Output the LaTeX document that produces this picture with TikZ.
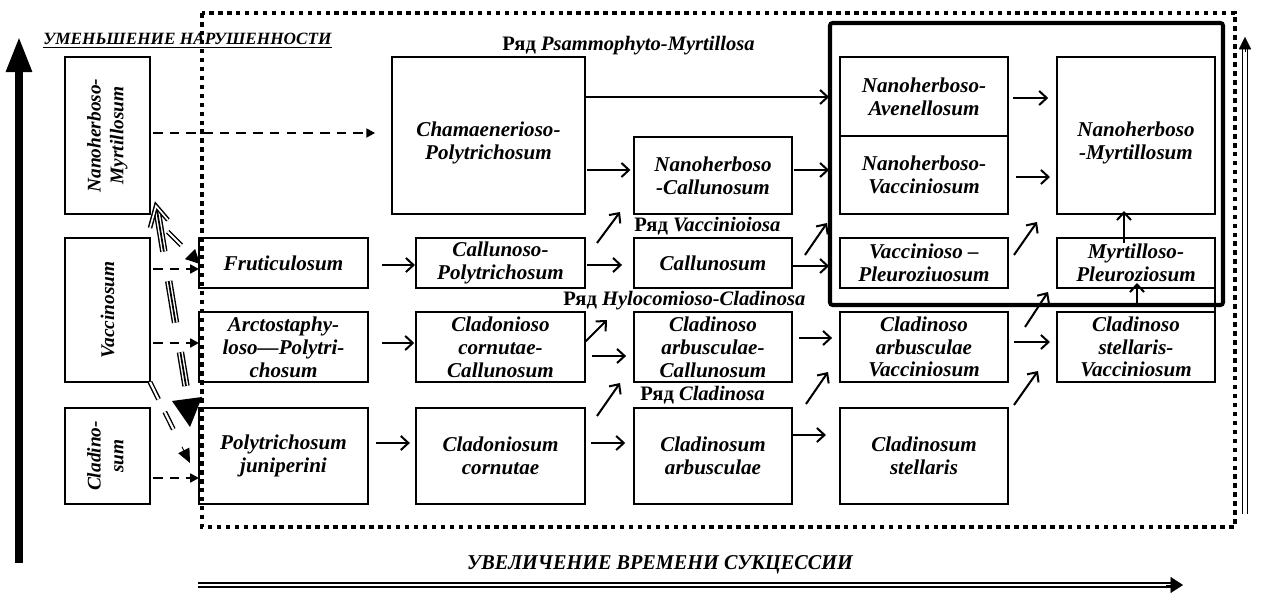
\documentclass[tikz,border=0pt]{standalone}
\usepackage{fontspec}
\usepackage{graphicx}
\setmainfont{Liberation Serif}
\newfontfamily\narrowfont[FakeStretch=0.96]{Liberation Serif}
\usetikzlibrary{arrows.meta,calc}
\newcommand{\mybox}[6]{\node[box, minimum width={(#4-#2)*0.02cm}, minimum height={(#5-#3)*0.02cm}] (#1) at ({(#2+#4)/2},{(#3+#5)/2}) {#6};}
\newcommand{\rotsize}{\fontsize{11}{13}\selectfont}
\newcommand{\lowtwo}[2]{\raisebox{-7.5pt}[0pt][0pt]{\begin{tabular}{@{}c@{}}#1\\#2\end{tabular}}}
\tikzset{
  box/.style={draw, line width=0.6pt, inner sep=0pt, outer sep=0pt, align=center,
    font=\bfseries\itshape\fontsize{12}{13}\selectfont},
  arr/.style={line width=1.15pt, -{Straight Barb[length=4.3pt,width=8pt,line width=1.15pt]}},
  darr/.style={line width=1.3pt, dash pattern=on 5.5pt off 4pt, -{Triangle[length=5pt,width=5pt]}},
  dotframe/.style={line width=2.4pt, dash pattern=on 2.6pt off 2.5pt},
  lbl/.style={font=\bfseries\fontsize{11.7}{13}\selectfont, inner sep=0pt, anchor=base west},
  dblline/.style={double, line width=0.8pt, double distance=1.2pt, dash pattern=on 11pt off 8pt},
  trip/.style={double, line width=0.8pt, double distance=2.6pt, dash pattern=on 24pt off 17pt},
  tripin/.style={line width=1pt, dash pattern=on 24pt off 17pt},
}
\begin{document}
\begin{tikzpicture}[x=0.02cm,y=-0.02cm]
\useasboundingbox (0,0) rectangle (1262,594);

% left column
\mybox{nm}{65}{57}{150}{214}{\rotsize\rotatebox{90}{\begin{tabular}{@{}c@{}}Nanoherboso-\\Myrtillosum\end{tabular}}}
\mybox{vac}{65}{238}{150}{382}{\rotsize\rotatebox{90}{Vaccinosum}}
\mybox{cld}{65}{408}{150}{504}{\rotsize\rotatebox{90}{\begin{tabular}{@{}c@{}}Cladino-\\sum\end{tabular}}}

% column 2
\mybox{cham}{392}{57}{585}{214}{\lowtwo{Chamaenerioso-}{Polytrichosum}}
\mybox{frut}{199}{238}{368}{288}{Fruticulosum}
\mybox{arct}{199}{312}{368}{382}{Arctostaphy-\\loso---Polytri-\\chosum}
\mybox{polj}{199}{408}{368}{504}{Polytrichosum\\juniperini}

% column 3
\mybox{calp}{416}{238}{585}{288}{Callunoso-\\Polytrichosum}
\mybox{clcc}{416}{312}{585}{382}{Cladonioso\\cornutae-\\Callunosum}
\mybox{clco}{416}{408}{585}{504}{Cladoniosum\\cornutae}

% column 4
\mybox{nhc}{634}{137}{792}{214}{Nanoherboso\\-Callunosum}
\mybox{cal}{634}{238}{792}{288}{Callunosum}
\mybox{clac}{634}{312}{792}{382}{Cladinoso\\arbusculae-\\Callunosum}
\mybox{clar}{634}{408}{792}{504}{Cladinosum\\arbusculae}

% column 5
\mybox{nha}{840}{57}{1008}{136}{Nanoherboso-\\Avenellosum}
\mybox{nhv}{840}{136}{1008}{214}{Nanoherboso-\\Vacciniosum}
\mybox{vpl}{840}{238}{1008}{288}{Vaccinioso --\\Pleuroziuosum}
\mybox{clav}{840}{312}{1008}{382}{Cladinoso\\arbusculae\\Vacciniosum}
\mybox{clst}{840}{408}{1008}{504}{Cladinosum\\stellaris}

% column 6
\mybox{nhm}{1057}{57}{1215}{214}{\lowtwo{Nanoherboso}{-Myrtillosum}}
\mybox{mpl}{1057}{238}{1215}{288}{Myrtilloso-\\Pleuroziosum}
\mybox{clsv}{1057}{312}{1215}{382}{Cladinoso\\stellaris-\\Vacciniosum}
\draw[line width=0.6pt] (mpl.south east) -- (clsv.north east);

% frames
\draw[dotframe] (202,13) rectangle (1235,527);
\draw[line width=2.3pt, rounded corners=1.5pt] (830,23) rectangle (1223,305);

% row labels
\node[lbl] (r1) at (502,51) {Ряд \textit{Psammophyto-Myrtillosa}};
\node[lbl] (r2) at (634,232) {Ряд \textit{Vaccinioiosa}};
\node[lbl] (r3) at (563,306) {Ряд \textit{Hylocomioso-Cladinosa}};
\node[lbl] (r4) at (640,401) {Ряд \textit{Cladinosa}};

% titles
\node[inner sep=0pt, anchor=base west, font=\bfseries\itshape\fontsize{9.8}{12}\selectfont] (t1) at (43,45) {\underline{УМЕНЬШЕНИЕ НАРУШЕННОСТИ}};
\node[inner sep=0pt, anchor=base, font=\narrowfont\bfseries\itshape\fontsize{12}{14}\selectfont] (t2) at (660,570) {УВЕЛИЧЕНИЕ ВРЕМЕНИ СУКЦЕССИИ};

% big axis arrows
\draw[line width=4.2pt, -{Triangle[length=20pt,width=14pt]}] (19,563) -- (19,37);
\draw[double, line width=1.1pt, double distance=1.3pt] (198,585) -- (1172,585);
\draw[line width=0.2pt, -{Triangle[length=7pt,width=9pt]}] (1166,585) -- (1183,585);
\draw[double, line width=0.7pt, double distance=1.8pt] (1245,514) -- (1245,48);
\draw[line width=0.2pt, -{Triangle[length=7pt,width=7pt]}] (1245,52) -- (1245,37);

% solid arrows
\draw[arr, shorten >=6.2pt] (cham.east |- 0,97) -- (nha.west |- 0,97);
\draw[arr, shorten <=1pt, shorten >=2pt] (cham.east |- 0,170) -- (nhc.west |- 0,170);
\draw[arr, shorten <=1pt, shorten >=6.2pt] (nhc.east |- 0,170) -- (nhv.west |- 0,170);
\draw[arr, shorten <=8pt, shorten >=0.6pt] (frut.east |- 0,265) -- (calp.west |- 0,265);
\draw[arr, shorten <=1pt, shorten >=6.8pt] (calp.east |- 0,265) -- (cal.west |- 0,265);
\draw[arr] ([shift={(12,5)}]calp.north east) -- ([shift={(-14,-2)}]nhc.south west);
\draw[arr, shorten >=6.2pt] (cal.east |- 0,266) -- (vpl.west |- 0,266);
\draw[arr] ([shift={(13,-8)}]cal.east) -- ([shift={(-13,9)}]nhv.south west);
\draw[arr, shorten <=8pt, shorten >=1pt] (arct.east |- 0,343) -- (clcc.west |- 0,343);
\draw[arr, shorten <=4pt, shorten >=4.5pt] (clcc.east |- 0,356) -- (clac.west |- 0,356);
\draw[arr] ([shift={(0,30)}]clcc.north east) -- ([shift={(-27,32)}]cal.south west);
\draw[arr, shorten <=4.5pt, shorten >=3.5pt] (polj.east |- 0,443) -- (clco.west |- 0,443);
\draw[arr, shorten <=3.5pt, shorten >=5pt] (clco.east |- 0,443) -- (clar.west |- 0,443);
\draw[arr] ([shift={(12,8)}]clco.north east) -- ([shift={(-14,1)}]clac.south west);
\draw[arr, shorten <=4pt, shorten >=4.5pt] (clac.east |- 0,338) -- (clav.west |- 0,338);
\draw[arr, shorten >=8pt] (clar.east |- 0,435) -- (clst.west |- 0,435);
\draw[arr] ([shift={(14,-4)}]clar.north east) -- ([shift={(-12,-10)}]clav.south west);
\draw[arr, shorten <=3pt, shorten >=5pt] (nha.east |- 0,98) -- (nhm.west |- 0,98);
\draw[arr, shorten <=4.5pt, shorten >=4pt] (nhv.east |- 0,177) -- (nhm.west |- 0,177);
\draw[arr] ([shift={(6,17)}]vpl.north east) -- ([shift={(-20,8)}]nhm.south west);
\draw[arr] ([shift={(-12,5)}]mpl.north) -- ([shift={(-12,-3)}]nhm.south);
\draw[arr] ([shift={(17,15)}]clav.north east) -- ([shift={(-9,4)}]mpl.south west);
\draw[arr, shorten <=3.5pt, shorten >=4pt] (clav.east |- 0,342) -- (clsv.west |- 0,342);
\draw[arr] ([shift={(6,-3)}]clst.north east) -- ([shift={(-19,-11)}]clsv.south west);
\draw[arr] ([shift={(1,-7)}]clsv.north) -- ([shift={(1,-5)}]mpl.south);

% dashed arrows
\draw[darr, shorten <=1.7pt, shorten >=9.6pt] (nm.east |- 0,133) -- (cham.west |- 0,133);
\draw[darr, shorten <=1.7pt] (vac.east |- 0,269) -- (frut.west |- 0,269);
\draw[darr, shorten <=1.7pt] (vac.east |- 0,343) -- (arct.west |- 0,343);
\draw[darr, shorten <=1.7pt] (cld.east |- 0,478) -- (polj.west |- 0,478);

% triple-line connector from the first box down
\coordinate (tA) at ([shift={(7,-4)}]nm.south east);
\coordinate (tB) at ([shift={(-13,-22)}]polj.north west);
\draw[trip] (tA) -- (tB);
\draw[tripin] (tA) -- (tB);
\fill (172,401) -- (202,397) -- (190,427) -- cycle;
\draw[line width=2.6pt, line join=miter] ([shift={(0,14)}]nm.south east) -- ([shift={(6,-8)}]nm.south east) -- ([shift={(18,6)}]nm.south east);
\draw[white, line width=0.9pt, line join=miter] ([shift={(0,14)}]nm.south east) -- ([shift={(6,-8)}]nm.south east) -- ([shift={(18,6)}]nm.south east);

% double-line connectors
\draw[dblline] ($(nm.south east)!0.36!(frut.west)$) -- ($(nm.south east)!0.76!(frut.west)$);
\draw[line width=0.5pt, -{Triangle[length=8pt,width=8pt]}] ($(nm.south east)!0.84!(frut.west)$) -- ([shift={(1,1)}]frut.west);
\coordinate (dC) at ([shift={(-9,7)}]polj.west);
\draw[dblline] (vac.south east) -- ($(vac.south east)!0.72!(dC)$);
\draw[line width=0.5pt, -{Triangle[length=8pt,width=7pt]}] ($(vac.south east)!0.8!(dC)$) -- (dC);
\end{tikzpicture}
\end{document}
